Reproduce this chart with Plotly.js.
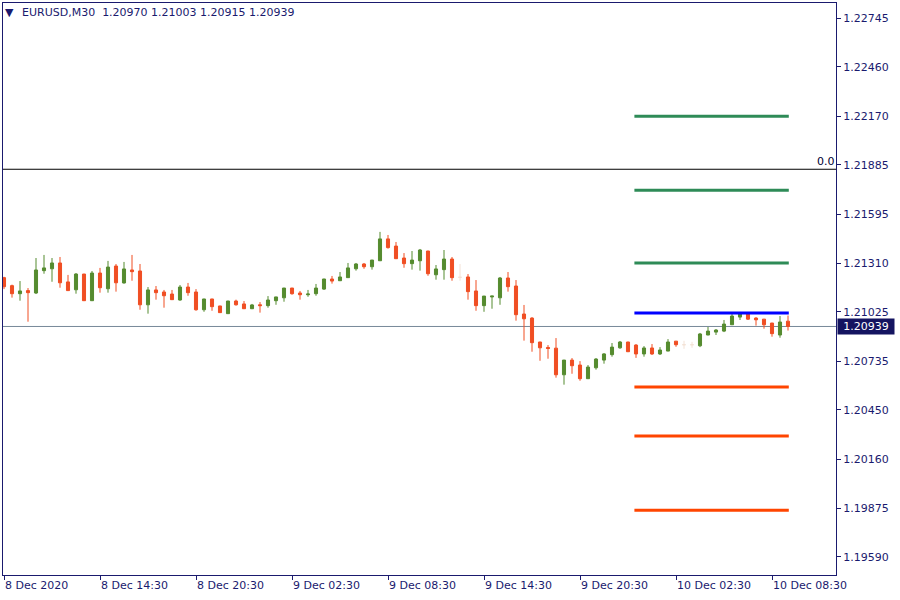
<!DOCTYPE html>
<html><head><meta charset="utf-8">
<script src="https://cdn.plot.ly/plotly-3.0.1.min.js"></script>
<style>html,body{margin:0;padding:0;background:#fff}#chart{width:900px;height:600px}</style>
</head><body><div id="chart"></div>
<script>
const symbol = 'EURUSD,M30';
const openP = [1.21225,1.21178,1.21131,1.21149,1.21135,1.21266,1.21277,1.21311,1.21200,1.21154,
1.21246,1.21090,1.21252,1.21160,1.21293,1.21194,1.21270,1.21264,1.21066,1.21153,
1.21141,1.21129,1.21094,1.21170,1.21141,1.21037,1.21100,1.21059,1.21014,1.21088,
1.21071,1.21043,1.21066,1.21061,1.21090,1.21107,1.21164,1.21135,1.21125,1.21131,
1.21158,1.21217,1.21207,1.21225,1.21277,1.21305,1.21289,1.21324,1.21452,1.21410,
1.21340,1.21307,1.21324,1.21381,1.21242,1.21272,1.21334,1.21227,1.21229,1.21147,
1.21061,1.21112,1.21107,1.21223,1.21176,1.21012,1.20988,1.20848,1.20816,1.20812,
1.20656,1.20742,1.20713,1.20633,1.20697,1.20742,1.20774,1.20814,1.20848,1.20830,
1.20778,1.20813,1.20778,1.20795,1.20853,1.20832,1.20832,1.20826,1.20889,1.20906,
1.20912,1.20949,1.20994,1.21012,1.20988,1.20982,1.20959,1.20889,1.20970];
const highP = [1.21230,1.21184,1.21205,1.21164,1.21340,1.21358,1.21340,1.21346,1.21241,1.21252,
1.21247,1.21264,1.21282,1.21323,1.21305,1.21317,1.21358,1.21305,1.21170,1.21176,
1.21153,1.21153,1.21182,1.21194,1.21158,1.21101,1.21101,1.21060,1.21089,1.21096,
1.21088,1.21071,1.21082,1.21117,1.21113,1.21165,1.21165,1.21147,1.21153,1.21188,
1.21218,1.21235,1.21258,1.21311,1.21311,1.21311,1.21329,1.21493,1.21475,1.21434,
1.21369,1.21381,1.21393,1.21382,1.21299,1.21387,1.21346,1.21305,1.21246,1.21211,
1.21118,1.21118,1.21229,1.21258,1.21211,1.21065,1.20994,1.20849,1.20830,1.20871,
1.20743,1.20754,1.20736,1.20713,1.20754,1.20783,1.20842,1.20854,1.20849,1.20836,
1.20824,1.20836,1.20818,1.20865,1.20854,1.20855,1.20849,1.20901,1.20936,1.20924,
1.20977,1.21012,1.21024,1.21013,1.20994,1.20983,1.20960,1.21000,1.21003];
const lowP = [1.21158,1.21108,1.21090,1.20967,1.21129,1.21248,1.21201,1.21166,1.21148,1.21131,
1.21089,1.21089,1.21137,1.21137,1.21143,1.21190,1.21207,1.21037,1.21014,1.21096,
1.21049,1.21095,1.21090,1.21119,1.21031,1.21025,1.21031,1.21019,1.21013,1.21061,
1.21042,1.21042,1.21020,1.21049,1.21066,1.21084,1.21125,1.21096,1.21113,1.21119,
1.21153,1.21190,1.21206,1.21224,1.21266,1.21277,1.21272,1.21323,1.21395,1.21335,
1.21283,1.21272,1.21266,1.21236,1.21213,1.21213,1.21207,1.21207,1.21096,1.21031,
1.21025,1.21043,1.21066,1.21143,1.20973,1.20856,1.20791,1.20738,1.20750,1.20639,
1.20598,1.20662,1.20621,1.20632,1.20686,1.20721,1.20762,1.20808,1.20790,1.20755,
1.20762,1.20772,1.20772,1.20794,1.20820,1.20808,1.20814,1.20818,1.20888,1.20889,
1.20906,1.20948,1.20977,1.20977,1.20944,1.20926,1.20879,1.20873,1.20915];
const closeP = [1.21172,1.21131,1.21147,1.21137,1.21270,1.21282,1.21311,1.21195,1.21149,1.21246,
1.21090,1.21252,1.21166,1.21287,1.21195,1.21276,1.21260,1.21066,1.21153,1.21137,
1.21119,1.21096,1.21170,1.21137,1.21037,1.21100,1.21055,1.21020,1.21088,1.21066,
1.21043,1.21065,1.21061,1.21094,1.21112,1.21164,1.21131,1.21125,1.21129,1.21164,
1.21217,1.21205,1.21229,1.21282,1.21305,1.21289,1.21328,1.21452,1.21401,1.21336,
1.21307,1.21328,1.21387,1.21248,1.21276,1.21334,1.21225,1.21227,1.21143,1.21061,
1.21117,1.21117,1.21223,1.21172,1.21008,1.20984,1.20844,1.20814,1.20810,1.20656,
1.20742,1.20709,1.20633,1.20701,1.20748,1.20778,1.20818,1.20848,1.20791,1.20778,
1.20813,1.20778,1.20801,1.20848,1.20832,1.20832,1.20832,1.20895,1.20912,1.20918,
1.20953,1.21000,1.21012,1.20982,1.20978,1.20949,1.20897,1.20965,1.20939];

const xTickIdx = [0,12,24,36,48,60,72,84,96];
const xTickText = ['8 Dec 2020','8 Dec 14:30','8 Dec 20:30','9 Dec 02:30','9 Dec 08:30',
  '9 Dec 14:30','9 Dec 20:30','10 Dec 02:30','10 Dec 08:30'];
const yTicks = [1.22745,1.22460,1.22170,1.21885,1.21595,1.21310,1.21025,1.20735,1.20450,1.20160,1.19875,1.19590];
const yTickText = yTicks.map(v => v.toFixed(5));

const upperLevels = [1.22170, 1.21737, 1.21311];
const pivotLevels = [1.21018];
const lowerLevels = [1.20584, 1.20297, 1.19863];
const levelFrom = 79, levelTo = 98;
const fiboLevel = 1.21860, fiboLabel = '0.0';
const bidPrice = closeP[closeP.length - 1];

const bull = '#558B2F', bear = '#F04E23', doji = '#F3E2D6';
const navy = '#1a1a6e';
const FONT = 'DejaVu Sans, Verdana, sans-serif';

const idx = openP.map((_, i) => i);
const isDoji = idx.map(i => openP[i] === closeP[i]);
const pick = (arr, want) => idx.filter(i => isDoji[i] === want).map(i => arr[i]);

const traces = [];
traces.push({
  type: 'candlestick',
  x: pick(idx, false), open: pick(openP, false), high: pick(highP, false),
  low: pick(lowP, false), close: pick(closeP, false),
  increasing: {line: {color: bull, width: 1}, fillcolor: bull},
  decreasing: {line: {color: bear, width: 1}, fillcolor: bear},
  whiskerwidth: 0, hoverinfo: 'skip', showlegend: false
});
traces.push({
  type: 'candlestick',
  x: pick(idx, true), open: pick(openP, true), high: pick(highP, true),
  low: pick(lowP, true), close: pick(closeP, true),
  increasing: {line: {color: doji, width: 1}, fillcolor: doji},
  decreasing: {line: {color: doji, width: 1}, fillcolor: doji},
  whiskerwidth: 0, hoverinfo: 'skip', showlegend: false
});
function levelTrace(v, color) {
  return {type: 'scatter', mode: 'lines', x: [levelFrom - 0.2, levelTo + 0.1], y: [v, v],
    line: {color: color, width: 3}, hoverinfo: 'skip', showlegend: false};
}
upperLevels.forEach(v => traces.push(levelTrace(v, '#2E8B57')));
pivotLevels.forEach(v => traces.push(levelTrace(v, '#0000FF')));
lowerLevels.forEach(v => traces.push(levelTrace(v, '#FF4500')));

const last = closeP.length - 1;
const header = symbol + '\u00a0\u00a0' + [openP[last], highP[last], lowP[last], closeP[last]].map(v => v.toFixed(5)).join(' ');

const layout = {
  width: 900, height: 600,
  margin: {l: 3, r: 64, t: 3, b: 25, pad: 0},
  paper_bgcolor: '#ffffff', plot_bgcolor: '#ffffff',
  showlegend: false,
  boxgap: 0.45,
  font: {family: FONT, size: 11, color: navy},
  xaxis: {
    range: [-0.125, 104], showgrid: false, zeroline: false,
    showline: true, mirror: true, linecolor: navy, linewidth: 1,
    ticks: 'outside', ticklen: 4, tickcolor: navy, tickwidth: 1,
    tickvals: xTickIdx, ticktext: xTickText, ticklabelposition: 'outside right',
    tickfont: {family: FONT, size: 11, color: navy},
    rangeslider: {visible: false}, fixedrange: true
  },
  yaxis: {
    range: [1.19483, 1.22834], side: 'right', showgrid: false, zeroline: false,
    showline: true, mirror: true, linecolor: navy, linewidth: 1,
    ticks: 'outside', ticklen: 4, tickcolor: navy, tickwidth: 1,
    tickvals: yTicks, ticktext: yTickText,
    tickfont: {family: FONT, size: 11, color: navy}, fixedrange: true
  },
  shapes: [
    {type: 'line', xref: 'paper', x0: 0, x1: 1, yref: 'y', y0: fiboLevel, y1: fiboLevel,
      line: {color: '#000000', width: 1}},
    {type: 'line', xref: 'paper', x0: 0, x1: 1, yref: 'y', y0: bidPrice, y1: bidPrice,
      line: {color: '#778899', width: 1}, layer: 'below'}
  ],
  annotations: [
    {xref: 'paper', yref: 'paper', x: 0, y: 1, xanchor: 'left', yanchor: 'middle',
      xshift: 0, yshift: -9, text: '\u25BC', showarrow: false,
      font: {family: FONT, size: 11, color: navy}},
    {xref: 'paper', yref: 'paper', x: 0, y: 1, xanchor: 'left', yanchor: 'middle',
      xshift: 17, yshift: -9, text: header, showarrow: false,
      font: {family: FONT, size: 11, color: navy}},
    {xref: 'paper', yref: 'y', x: 1, y: fiboLevel, xanchor: 'right', yanchor: 'bottom',
      xshift: 1, yshift: -1, text: fiboLabel, showarrow: false,
      font: {family: FONT, size: 11, color: '#000033'}},
    {xref: 'paper', yref: 'y', x: 1, y: bidPrice, xanchor: 'left', yanchor: 'middle',
      xshift: 1, text: bidPrice.toFixed(5), showarrow: false, bgcolor: '#141460',
      borderpad: 1, width: 54, align: 'center',
      font: {family: FONT, size: 11, color: '#ffffff'}}
  ]
};

Plotly.newPlot('chart', traces, layout, {displayModeBar: false, staticPlot: true});
</script>
</body></html>
